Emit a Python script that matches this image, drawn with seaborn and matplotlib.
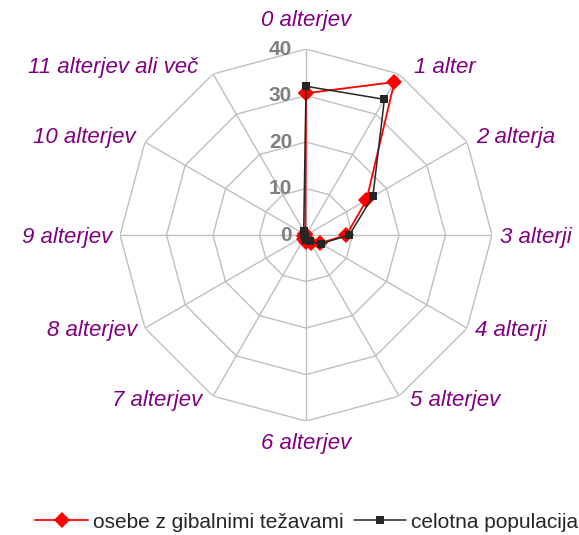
# %%
# ===== Importing Libraries =====

import numpy as np
import pandas as pd
import matplotlib
matplotlib.use('Agg')
import matplotlib.pyplot as plt
import seaborn as sns

sns.set_theme(style='white')
plt.rcParams['font.family'] = ['Liberation Sans', 'DejaVu Sans']

# %%
# ===== Data =====

categories = ['0 alterjev', '1 alter', '2 alterja', '3 alterji', '4 alterji',
              '5 alterjev', '6 alterjev', '7 alterjev', '8 alterjev',
              '9 alterjev', '10 alterjev', '11 alterjev ali več']
gibalne = [30.5, 38.0, 15.0, 8.7, 3.5, 2.0, 1.5, 1.0, 0.5, 0.3, 0.3, 0.3]
populacija = [32.0, 33.7, 16.6, 9.3, 3.7, 1.5, 1.0, 0.5, 0.3, 0.5, 0.5, 1.0]
r_ticks = [0, 10, 20, 30, 40]
series_names = ['osebe z gibalnimi težavami', 'celotna populacija']

# %%
# ===== Building the table =====

n = len(categories)
angles = np.linspace(0, 2 * np.pi, n, endpoint=False)
closed_angles = np.append(angles, 2 * np.pi)

df = pd.concat([
    pd.DataFrame({'theta': closed_angles,
                  'r': gibalne + gibalne[:1],
                  'series': series_names[0]}),
    pd.DataFrame({'theta': closed_angles,
                  'r': populacija + populacija[:1],
                  'series': series_names[1]}),
])

# %%
# ===== Radar Chart =====

fig = plt.figure(figsize=(5.79, 5.35), dpi=100)
ax = fig.add_axes([0.2073, 0.2130, 0.6425, 0.6953], projection='polar')
ax.set_theta_offset(np.pi / 2)
ax.set_theta_direction(-1)
ax.set_ylim(0, 40)
ax.set_facecolor('white')

# polygon grid
for r in r_ticks[1:]:
    ax.plot(closed_angles, [r] * (n + 1), color='#BFBFBF', lw=1.0, zorder=1)
ax.set_thetagrids(np.degrees(angles), [''] * n)
ax.xaxis.grid(True, color='#BFBFBF', lw=1.0)
ax.yaxis.grid(False)
ax.set_yticks([])
ax.spines['polar'].set_visible(False)

colors = {series_names[0]: '#FF0000', series_names[1]: '#262626'}
sns.lineplot(data=df[df.series == series_names[0]], x='theta', y='r',
             sort=False, estimator=None, color=colors[series_names[0]],
             marker='D', markersize=8, markeredgewidth=0, lw=1.3,
             label=series_names[0], ax=ax, zorder=3)
sns.lineplot(data=df[df.series == series_names[1]], x='theta', y='r',
             sort=False, estimator=None, color=colors[series_names[1]],
             marker='s', markersize=6, markeredgewidth=0, lw=1.1,
             label=series_names[1], ax=ax, zorder=4)
ax.set_xlabel('')
ax.set_ylabel('')

# radial tick labels
for r in r_ticks:
    ax.annotate(str(r), xy=(0, r), xytext=(-14, 0), textcoords='offset pixels',
                ha='right', va='center', fontsize=15, fontweight='bold',
                color='#7F7F7F', annotation_clip=False)

# category labels
offsets = [(0, 29), (15, 6), (9, 5), (8, -2), (8, -2), (11, -4), (0, -22),
           (-11, -4), (-8, -2), (-8, -2), (-9, 5), (-15, 6)]
for ang, lab, (dx, dy) in zip(angles, categories, offsets):
    ha = 'center' if dx == 0 else ('left' if dx > 0 else 'right')
    ax.annotate(lab, xy=(ang, 40), xytext=(dx, dy), textcoords='offset pixels',
                ha=ha, va='center', fontsize=16, fontstyle='italic',
                color='#800080', annotation_clip=False)

handles, labels = ax.get_legend_handles_labels()
ax.get_legend().remove()
fig.legend(handles, labels, loc='center', bbox_to_anchor=(0.53, 0.024),
           ncol=2, frameon=False, fontsize=15, handlelength=2.5,
           handletextpad=0.25, columnspacing=0.5, borderpad=0.0,
           borderaxespad=0.0)

fig.savefig('out.png', dpi=100, facecolor='white')
